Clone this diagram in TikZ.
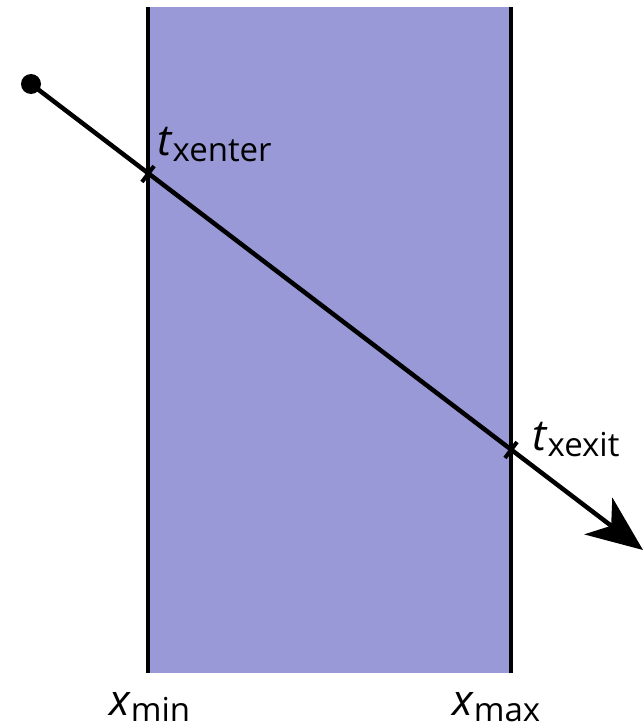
\documentclass[tikz,border=0pt]{standalone}
\usepackage{fontspec}
\setmainfont{Open Sans}
\usetikzlibrary{arrows.meta,calc}
\definecolor{slabfill}{RGB}{153,153,216}
\tikzset{
  wall/.style={line width=4.5pt},
  ray/.style={line width=4.5pt},
  tickmark/.style={line width=4pt},
  lbl/.style={inner sep=0pt, font=\fontsize{43}{48}\selectfont},
}
\newcommand{\sublab}[2]{\textit{#1}\raisebox{-6pt}{\fontsize{33}{36}\selectfont #2}}
\begin{document}
\begin{tikzpicture}[x=1pt,y=-1pt]
\useasboundingbox (0,0) rectangle (643,728);
% slab
\fill[slabfill] (148,7) rectangle (511,673);
\draw[wall] (148,7) -- (148,673);
\draw[wall] (511,7) -- (511,673);

% ray
\coordinate (start) at (31,84);
\coordinate (enter) at (148,174);
\coordinate (exit) at (511,450);
\coordinate (tip) at (643,550);
\draw[ray,-{Stealth[length=56pt,width=46pt,inset=16pt]}] (start) -- (tip);
\fill (start) circle (10);
\draw[tickmark] ($(enter)!10pt!90:(tip)$) -- ($(enter)!10pt!-90:(tip)$);
\draw[tickmark] ($(exit)!10pt!90:(tip)$) -- ($(exit)!10pt!-90:(tip)$);

% labels
\node[lbl,anchor=base west] (tenter) at (157,155) {\sublab{t}{xenter}};
\node[lbl,anchor=base west] (texit) at (532,450) {\sublab{t}{xexit}};
\node[lbl,anchor=base west] (xmin) at (109,715) {\sublab{x}{min}};
\node[lbl,anchor=base west] (xmax) at (452,715) {\sublab{x}{max}};
\end{tikzpicture}
\end{document}
